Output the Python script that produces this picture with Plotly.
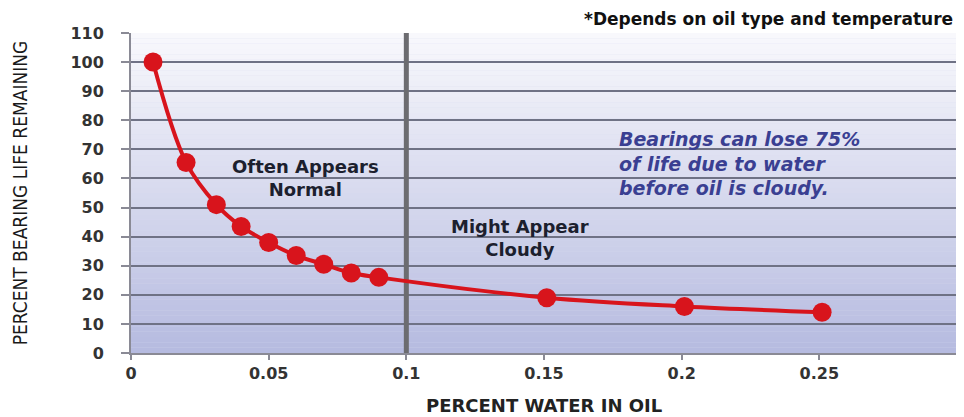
import plotly.graph_objects as go

# Data
water_pct = [0.008, 0.02, 0.031, 0.040, 0.050, 0.060, 0.070, 0.080, 0.090, 0.151, 0.201, 0.251]
life_remaining = [100, 65.5, 51, 43.5, 38, 33.5, 30.5, 27.5, 26, 19, 16, 14]

x_tick_vals = [0, 0.05, 0.1, 0.15, 0.2, 0.25, 0.3]
x_tick_text = ["0", "0.05", "0.1", "0.15", "0.2", "0.25", ""]
y_tick_vals = [0, 10, 20, 30, 40, 50, 60, 70, 80, 90, 100, 110]

divider_x = 0.1
y_range = [0, 110]

fig = go.Figure()

# divider line at 0.1 (drawn below the curve)
fig.add_trace(go.Scatter(
    x=[divider_x, divider_x], y=y_range,
    mode="lines", line=dict(color="#6c6c70", width=5),
    hoverinfo="skip", showlegend=False, cliponaxis=False,
))

fig.add_trace(go.Scatter(
    x=water_pct, y=life_remaining,
    mode="lines+markers",
    line=dict(color="#d8141c", width=4, shape="spline", smoothing=1.0),
    marker=dict(color="#d8141c", size=19),
    hoverinfo="x+y",
    showlegend=False,
))

# gradient background bands
top = (248, 248, 252)
bot = (182, 187, 224)
n = 60
shapes = []
for i in range(n):
    t = i / (n - 1)
    c = tuple(round(bot[k] + (top[k] - bot[k]) * t) for k in range(3))
    shapes.append(dict(
        type="rect", xref="x domain", yref="y domain",
        x0=0, x1=1, y0=i / n, y1=(i + 1) / n,
        fillcolor="rgb(%d,%d,%d)" % c, line=dict(width=0), layer="below",
    ))
# right border
shapes.append(dict(
    type="line", xref="x domain", yref="y domain",
    x0=1, x1=1, y0=0, y1=1,
    line=dict(color="#8a8a90", width=2), layer="below",
))

annots = [
    dict(text="*Depends on oil type and temperature", xref="paper", yref="paper",
         x=1.0, y=1.0, xanchor="right", yanchor="bottom", xshift=-2, yshift=2, showarrow=False,
         font=dict(family="DejaVu Sans", size=17, color="#111", weight="bold")),
    dict(text="Often Appears<br>Normal", xref="x", yref="y",
         x=0.0632, y=60.3, showarrow=False, align="center",
         font=dict(family="DejaVu Sans", size=18, color="#1c1f2e", weight="bold")),
    dict(text="Might Appear<br>Cloudy", xref="x", yref="y",
         x=0.1413, y=39.7, showarrow=False, align="center",
         font=dict(family="DejaVu Sans", size=18, color="#1c1f2e", weight="bold")),
    dict(text="<i>Bearings can lose 75%<br>of life due to water<br>before oil is cloudy.</i>",
         xref="x", yref="y", x=0.1765, y=65.3, xanchor="left", showarrow=False, align="left",
         font=dict(family="DejaVu Sans", size=19, color="#3a3f92", weight="bold")),
    dict(text="PERCENT BEARING LIFE REMAINING", xref="paper", yref="paper",
         x=-0.134, y=0.5, xanchor="center", yanchor="middle", textangle=-90, showarrow=False,
         font=dict(family="Liberation Sans Narrow, DejaVu Sans Condensed, sans-serif", size=19, color="#1a1a1a")),
    dict(text="PERCENT WATER IN OIL", xref="paper", yref="paper",
         x=0.5, y=-0.1625, xanchor="center", yanchor="middle", showarrow=False,
         font=dict(family="DejaVu Sans", size=18, color="#222", weight="bold")),
]

fig.update_layout(
    width=956, height=409,
    margin=dict(l=123, r=7, t=25, b=64),
    paper_bgcolor="white",
    plot_bgcolor="rgb(215,217,238)",
    shapes=shapes,
    annotations=annots,
    xaxis=dict(
        range=[0, 0.3], tickvals=x_tick_vals, ticktext=x_tick_text,
        showgrid=False, zeroline=False,
        showline=True, linecolor="#8a8a95", linewidth=2,
        ticks="outside", ticklen=5, tickwidth=2, tickcolor="#8a8a95",
        tickfont=dict(family="DejaVu Sans", size=16, color="#333", weight="bold"),
    ),
    yaxis=dict(
        range=y_range, tickvals=y_tick_vals,
        showgrid=True, gridcolor="#6f7285", gridwidth=2, zeroline=False,
        showline=True, linecolor="#8a8a95", linewidth=2,
        ticks="outside", ticklen=8, tickwidth=2, tickcolor="#8a8a95",
        ticklabelstandoff=14,
        tickfont=dict(family="DejaVu Sans", size=16, color="#333", weight="bold"),
    ),
)

fig.write_html("out.html")
